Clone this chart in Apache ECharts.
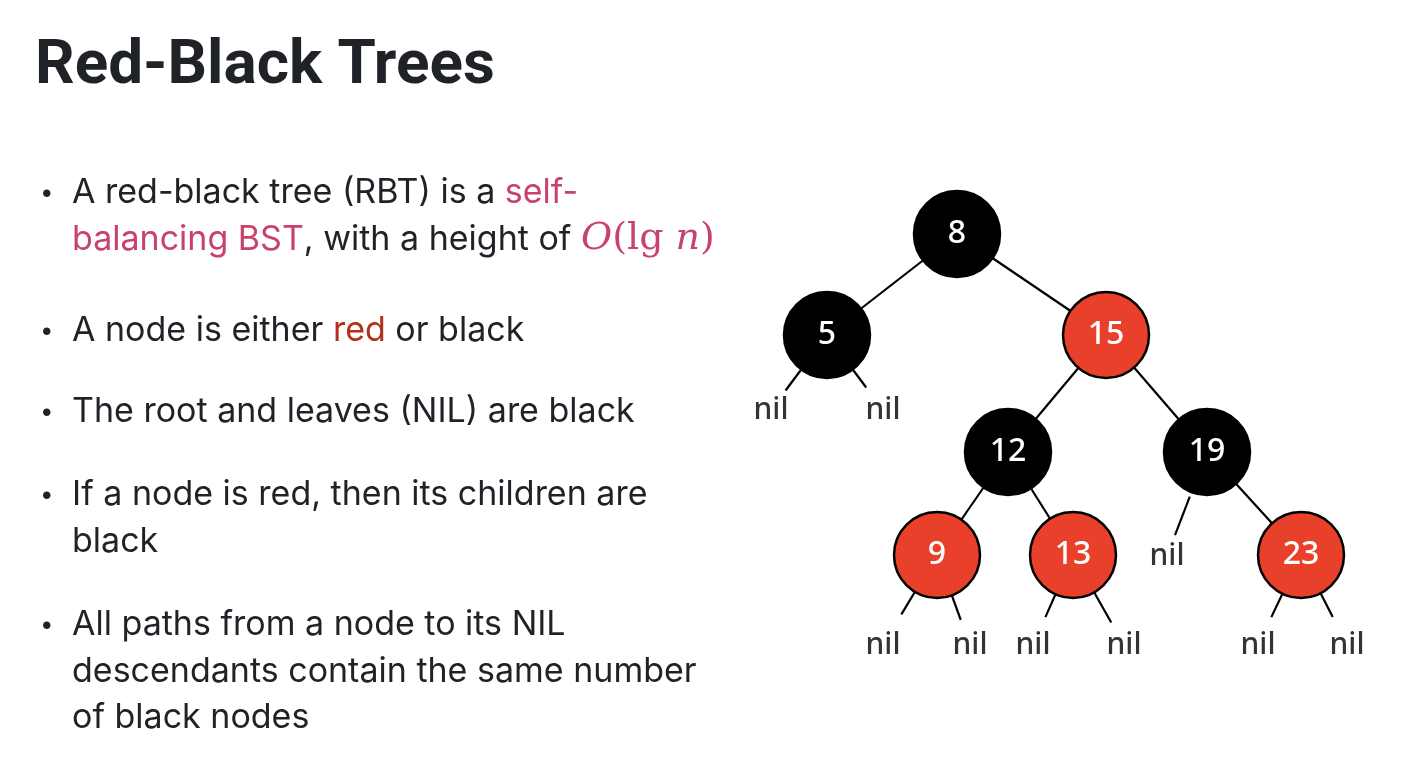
<!DOCTYPE html>
<html><head><meta charset="utf-8">
<script src="https://cdn.jsdelivr.net/npm/echarts@6/dist/echarts.min.js"></script>
<style>html,body{margin:0;padding:0;background:#fff}#c{width:1422px;height:782px}</style>
</head><body><div id="c"></div>
<script>
// ---- data ----
const nodeNames  = ['8','5','15','12','19','9','13','23'];
const nodeX      = [957, 827, 1106, 1008, 1207, 937, 1073, 1301];
const nodeY      = [234, 335, 335, 452, 452, 555, 555, 555];
const nodeColor  = ['black','black','red','black','black','red','red','red'];
const edges      = [['8','5'],['8','15'],['15','12'],['15','19'],['12','9'],['12','13'],['19','23']];
const nilParent  = ['5','5','19','9','9','13','13','23','23'];
const nilX       = [771, 883, 1167, 883, 970, 1033, 1124, 1258, 1347];
const nilY       = [410, 410, 556, 645, 645, 645, 645, 645, 645];
const nilEdgeStart = [0.44, 0.45, 0.43, 0.38, 0.45, 0.42, 0.40, 0.42, 0.42];
const nilEdgeEnd   = [0.74, 0.70, 0.80, 0.66, 0.72, 0.69, 0.75, 0.69, 0.69];

const titleText = 'Red-Black Trees';
const bullets = [
  ['A red-black tree (RBT) is a {p|self-}', '{p|balancing BST}, with a height of {mi|O}{mr|(lg }{mi|n}{mr|)}'],
  ['A node is either {r|red} or black'],
  ['The root and leaves (NIL) are black'],
  ['If a node is red, then its children are', 'black'],
  ['All paths from a node to its NIL', 'descendants contain the same number', 'of black nodes']
];
const bulletY = [193, 331, 412, 495, 625];
const lineGap = 46.5;

// ---- build ----
const RED = '#E8402A', BLK = '#000000';
const idx = n => nodeNames.indexOf(n);
const nodeData = nodeNames.map((n,i)=>({
  name:n, value:[nodeX[i], nodeY[i]],
  itemStyle:{color: nodeColor[i]==='red'?RED:BLK, borderColor:'#000', borderWidth:2.5, opacity:1}
}));
const edgeData = edges.map(([a,b])=>({coords:[[nodeX[idx(a)],nodeY[idx(a)]],[nodeX[idx(b)],nodeY[idx(b)]]]}));
const nilEdgeData = nilParent.map((p,i)=>{
  const px=nodeX[idx(p)], py=nodeY[idx(p)], dx=nilX[i]-px, dy=nilY[i]-py;
  return {coords:[[px+dx*nilEdgeStart[i], py+dy*nilEdgeStart[i]],[px+dx*nilEdgeEnd[i], py+dy*nilEdgeEnd[i]]]};
});
const nilData = nilX.map((x,i)=>[x, nilY[i]]);

const TXT = '#1F2328';
const baseFont = 'Inter, "Noto Sans", sans-serif';
const FS = 34;
const rich = {
  p:{fill:'#C8436B', fontSize:FS, fontFamily:baseFont},
  r:{fill:'#B3301A', fontSize:FS, fontFamily:baseFont},
  mi:{fill:'#C8436B', fontSize:38, fontStyle:'italic', fontFamily:'"DejaVu Serif", "Liberation Serif", serif'},
  mr:{fill:'#C8436B', fontSize:38, fontFamily:'"DejaVu Serif", "Liberation Serif", serif'}
};
const graphics = [{
  type:'text', style:{text:titleText, x:35, y:67, fill:TXT, font:'bold 62px Roboto, Inter, sans-serif', verticalAlign:'middle'}
}];
bullets.forEach((lines,bi)=>{
  graphics.push({type:'text', style:{text:'•', x:40, y:bulletY[bi], fill:TXT, font:'24px '+baseFont, verticalAlign:'middle'}});
  lines.forEach((ln,li)=>{
    graphics.push({type:'text', style:{text:ln, x:72, y:bulletY[bi]+li*lineGap, fill:TXT, fontSize:FS, fontFamily:baseFont, verticalAlign:'middle', rich:rich}});
  });
});

const chart = echarts.init(document.getElementById('c'), null, {renderer:'canvas'});
chart.setOption({
  animation:false,
  backgroundColor:'#fff',
  grid:{left:0,right:0,top:0,bottom:0},
  xAxis:{type:'value', min:0, max:1422, show:false},
  yAxis:{type:'value', min:0, max:782, inverse:true, show:false},
  graphic:graphics,
  series:[
    {type:'lines', coordinateSystem:'cartesian2d', z:1, lineStyle:{color:'#000', width:2.2, opacity:1}, data:edgeData},
    {type:'lines', coordinateSystem:'cartesian2d', z:1, lineStyle:{color:'#000', width:2.2, opacity:1}, data:nilEdgeData},
    {type:'scatter', z:3, symbol:'circle', symbolSize:86, data:nodeData, itemStyle:{opacity:1},
      label:{show:true, position:'inside', formatter:p=>p.name, color:'#fff', fontSize:32, fontWeight:500, fontFamily:'"Noto Sans", sans-serif'}},
    {type:'scatter', z:3, symbolSize:0, data:nilData,
      label:{show:true, position:'inside', formatter:'nil', color:'#000', fontSize:30, fontWeight:500, fontFamily:'"Noto Sans", sans-serif'}}
  ]
});
</script></body></html>
